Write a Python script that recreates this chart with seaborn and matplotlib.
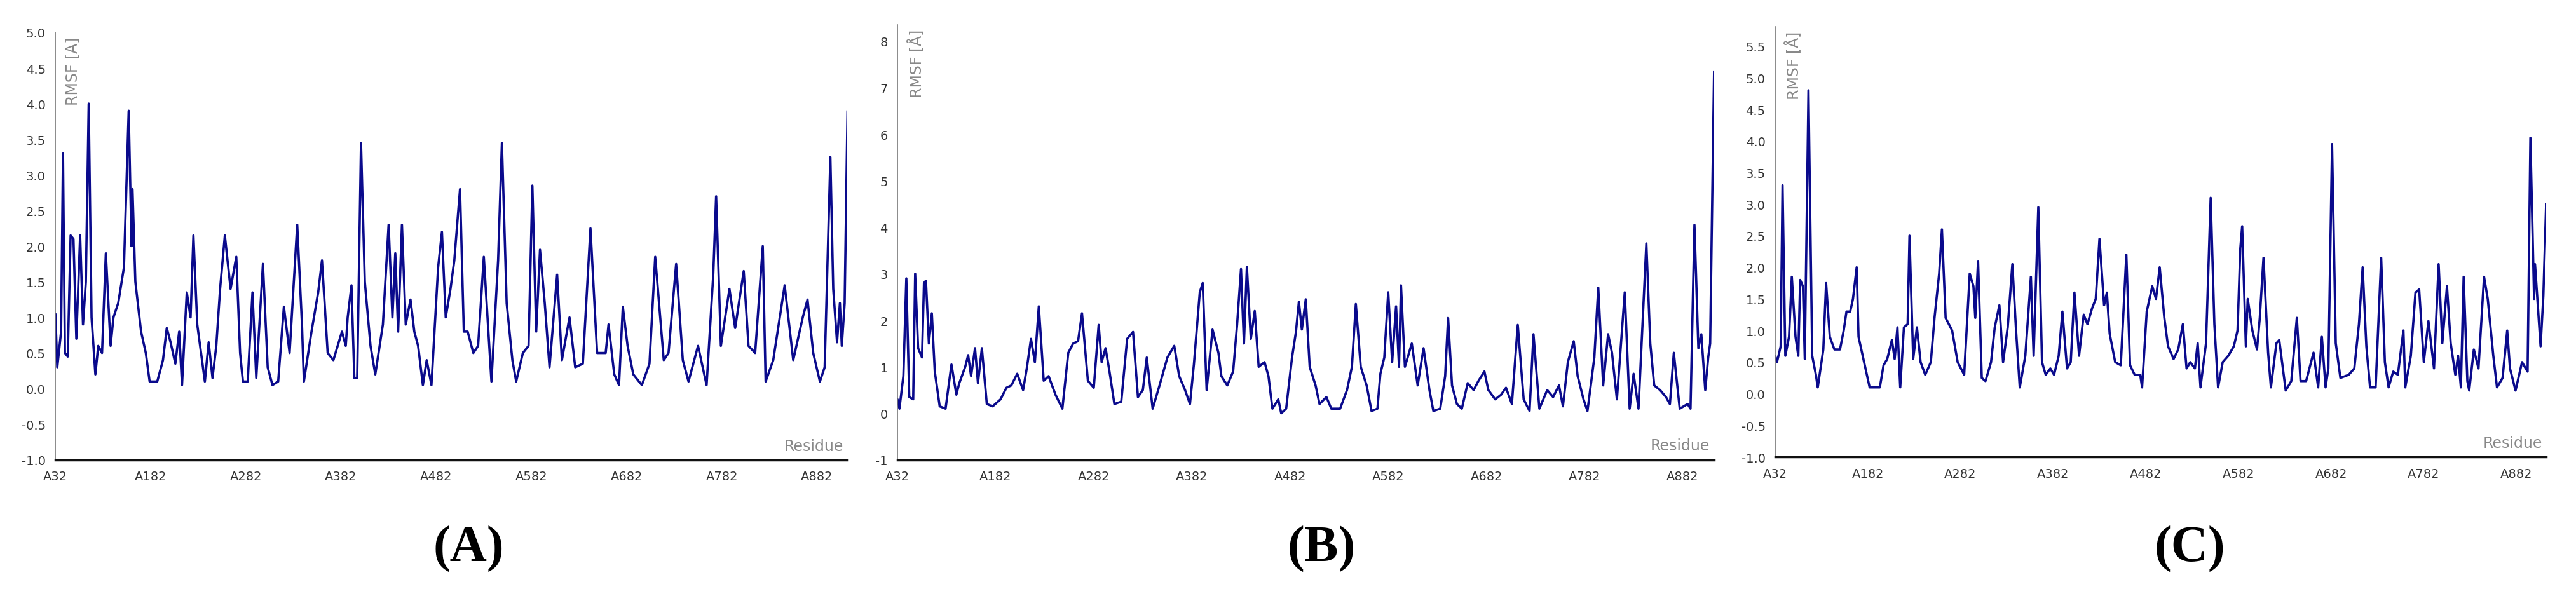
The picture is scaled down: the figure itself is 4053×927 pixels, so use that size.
import numpy as np
import pandas as pd
import matplotlib
matplotlib.use("Agg")
import matplotlib.pyplot as plt
import seaborn as sns

tick_labels = ["A32", "A182", "A282", "A382", "A482", "A582", "A682", "A782", "A882"]

a_idx = [0,2,6,8,10,13,16,19,22,26,29,32,35,38,42,45,49,53,58,61,66,72,77,80,81,84,90,95,99,107,113,117,121,126,130,133,138,142,145,149,153,157,161,165,169,173,178,184,190,194,197,202,207,211,218,223,228,234,240,246,254,259,261,269,276,280,286,292,301,305,307,311,314,317,321,325,331,336,344,350,354,357,360,364,368,373,377,381,386,390,395,402,406,410,415,419,425,429,433,439,444,450,458,465,469,474,480,484,491,497,501,505,509,514,519,527,532,540,546,554,562,569,578,581,587,592,596,601,607,616,624,630,639,644,652,659,665,675,684,691,694,699,708,714,723,728,735,743,746,754,766,775,785,790,796,803,808,814,817,821,824,826,829,832]
a_val = [1.05,0.3,0.8,3.3,0.5,0.45,2.15,2.1,0.7,2.15,0.9,1.5,4.0,1.0,0.2,0.6,0.5,1.9,0.6,1.0,1.2,1.7,3.9,2.0,2.8,1.5,0.8,0.5,0.1,0.1,0.4,0.85,0.65,0.35,0.8,0.05,1.35,1.0,2.15,0.9,0.5,0.1,0.65,0.15,0.6,1.4,2.15,1.4,1.85,0.5,0.1,0.1,1.35,0.15,1.75,0.3,0.05,0.1,1.15,0.5,2.3,0.9,0.1,0.8,1.35,1.8,0.5,0.4,0.8,0.6,1.0,1.45,0.15,0.15,3.45,1.5,0.6,0.2,0.9,2.3,1.0,1.9,0.8,2.3,0.9,1.25,0.8,0.6,0.05,0.4,0.05,1.7,2.2,1.0,1.4,1.8,2.8,0.8,0.8,0.5,0.6,1.85,0.1,1.8,3.45,1.2,0.4,0.1,0.5,0.6,2.85,0.8,1.95,1.2,0.3,1.6,0.4,1.0,0.3,0.35,2.25,0.5,0.5,0.9,0.2,0.05,1.15,0.6,0.2,0.05,0.35,1.85,0.4,0.5,1.75,0.4,0.1,0.6,0.05,1.6,2.7,0.6,1.4,0.85,1.65,0.6,0.5,2.0,0.1,0.4,1.45,0.4,1.0,1.25,0.5,0.1,0.3,3.25,1.4,0.65,1.2,0.6,1.2,3.9]

b_idx = [0,2,6,9,12,16,18,21,25,27,29,32,35,38,43,49,55,60,63,69,72,75,79,82,86,91,97,105,111,116,122,128,132,136,140,144,149,154,161,168,174,179,184,188,194,200,205,208,212,216,221,228,234,240,245,250,254,260,267,275,282,287,293,298,302,308,311,315,321,327,330,336,342,346,350,353,356,360,364,368,374,378,382,388,391,396,402,406,409,412,416,420,426,430,437,442,451,458,463,467,472,478,483,489,492,496,500,504,508,511,513,517,524,530,536,542,546,553,558,561,565,570,575,581,587,592,598,602,609,615,620,626,632,638,644,648,654,662,668,674,678,683,689,693,699,703,710,714,719,724,728,733,741,746,750,755,763,767,771,777,783,787,791,797,805,808,812,816,819,823,826,828,832]
b_val = [0.3,0.1,0.8,2.9,0.35,0.3,3.0,1.4,1.2,2.8,2.85,1.5,2.15,0.9,0.15,0.1,1.05,0.4,0.65,1.0,1.25,0.8,1.4,0.65,1.4,0.2,0.15,0.3,0.55,0.6,0.85,0.5,1.0,1.6,1.1,2.3,0.7,0.8,0.4,0.1,1.3,1.5,1.55,2.15,0.7,0.55,1.9,1.1,1.4,0.9,0.2,0.25,1.6,1.75,0.35,0.5,1.2,0.1,0.6,1.2,1.45,0.8,0.5,0.2,1.05,2.6,2.8,0.5,1.8,1.3,0.8,0.6,0.9,1.9,3.1,1.5,3.15,1.6,2.2,1.0,1.1,0.8,0.1,0.3,0.0,0.1,1.2,1.75,2.4,1.8,2.45,1.0,0.6,0.2,0.35,0.1,0.1,0.5,1.0,2.35,1.0,0.6,0.05,0.1,0.85,1.2,2.6,1.1,2.3,1.0,2.75,1.0,1.5,0.6,1.4,0.5,0.05,0.1,0.8,2.05,0.6,0.2,0.1,0.65,0.5,0.7,0.9,0.5,0.3,0.4,0.55,0.2,1.9,0.3,0.05,1.7,0.1,0.5,0.35,0.6,0.15,1.1,1.55,0.8,0.3,0.05,1.2,2.7,0.6,1.7,1.3,0.3,2.6,0.1,0.85,0.1,3.65,1.5,0.6,0.5,0.35,0.2,1.3,0.1,0.2,0.1,4.05,1.4,1.7,0.5,1.2,1.5,7.35]

c_idx = [0,2,6,8,11,15,18,22,25,27,30,32,36,40,44,46,52,55,59,64,70,74,77,81,84,88,90,96,102,113,117,121,126,129,132,135,139,143,145,149,153,157,162,168,172,177,180,184,191,197,204,210,214,216,219,223,227,233,237,242,246,251,256,260,264,270,276,279,284,288,292,297,301,306,310,315,319,323,328,333,337,342,346,350,355,358,361,367,373,379,383,388,394,396,401,407,411,415,420,424,430,435,440,444,448,453,456,459,465,470,474,478,483,489,495,499,502,504,508,510,515,520,523,527,532,535,541,544,551,557,563,567,573,581,586,590,594,597,601,605,610,619,625,630,634,638,642,648,654,658,662,667,672,678,680,686,691,695,700,705,711,716,720,725,729,734,737,740,743,747,749,754,759,765,769,775,779,785,790,793,799,806,812,815,819,820,826,829,832]
c_val = [0.6,0.5,0.75,3.3,0.6,0.9,1.85,0.9,0.6,1.8,1.7,0.55,4.8,0.6,0.3,0.1,0.7,1.75,0.9,0.7,0.7,1.0,1.3,1.3,1.5,2.0,0.9,0.5,0.1,0.1,0.45,0.55,0.85,0.55,1.05,0.1,1.05,1.1,2.5,0.55,1.05,0.5,0.3,0.5,1.2,1.9,2.6,1.2,1.0,0.5,0.3,1.9,1.7,1.2,2.1,0.25,0.2,0.5,1.05,1.4,0.5,1.05,2.05,1.0,0.1,0.6,1.85,0.6,2.95,0.5,0.3,0.4,0.3,0.6,1.3,0.4,0.5,1.6,0.6,1.25,1.1,1.35,1.5,2.45,1.4,1.6,0.95,0.5,0.45,2.2,0.45,0.3,0.3,0.1,1.3,1.7,1.5,2.0,1.2,0.75,0.55,0.7,1.1,0.4,0.5,0.4,0.8,0.1,0.8,3.1,1.1,0.1,0.5,0.6,0.75,1.0,2.3,2.65,0.75,1.5,1.0,0.7,1.2,2.15,0.65,0.1,0.8,0.85,0.05,0.2,1.2,0.2,0.2,0.65,0.1,0.9,0.1,0.4,3.95,0.8,0.25,0.3,0.4,1.1,2.0,0.75,0.1,0.1,2.15,0.5,0.1,0.35,0.3,1.0,0.1,0.6,1.6,1.65,0.5,1.15,0.4,2.05,0.8,1.7,0.8,0.3,0.6,0.1,1.85,0.2,0.05,0.7,0.4,1.85,1.5,0.6,0.1,0.25,1.0,0.4,0.05,0.5,0.35,4.05,1.5,2.05,0.75,1.55,3.0]

panels = [
    dict(idx=a_idx, val=a_val, label="(A)", ylim=(-1.0, 5.0), yt=np.arange(-1.0, 5.01, 0.5), fmt="{:.1f}",
         rect=[0.0215, 0.219, 0.3075, 0.725], ylab="RMSF [A]", lx=0.182),
    dict(idx=b_idx, val=b_val, label="(B)", ylim=(-1, 8.35), yt=np.arange(-1, 8.1, 1), fmt="{:.0f}",
         rect=[0.3484, 0.219, 0.317, 0.738], ylab="RMSF [Å]", lx=0.513),
    dict(idx=c_idx, val=c_val, label="(C)", ylim=(-1.0, 5.81), yt=np.arange(-1.0, 5.51, 0.5), fmt="{:.1f}",
         rect=[0.6891, 0.224, 0.2993, 0.730], ylab="RMSF [Å]", lx=0.850),
]

sns.set_theme(style="white")
plt.rcParams['font.family'] = ['DejaVu Sans']
fig = plt.figure(figsize=(40.53, 9.28), dpi=100)

for p in panels:
    ax = fig.add_axes(p["rect"])
    df = pd.DataFrame({"res": p["idx"], "rmsf": p["val"]})
    sns.lineplot(data=df, x="res", y="rmsf", ax=ax, color="#0a0a8c", linewidth=2.6)
    ax.set_xlim(0, 832)
    ax.set_ylim(*p["ylim"])
    ax.set_xticks(np.arange(0, 801, 100))
    ax.set_xticklabels(tick_labels, fontsize=14, color="#333333")
    ax.set_yticks(p["yt"])
    ax.set_yticklabels([p["fmt"].format(v) for v in p["yt"]], fontsize=14, color="#333333")
    ax.tick_params(axis="both", length=5, width=1, color="#555555", pad=6, direction="out")
    ax.tick_params(axis="x", length=0, pad=12)
    for s in ["top", "right"]:
        ax.spines[s].set_visible(False)
    ax.spines["left"].set_color("#777777")
    ax.spines["left"].set_linewidth(1.2)
    ax.spines["bottom"].set_color("#111111")
    ax.spines["bottom"].set_linewidth(2.5)
    ax.set_xlabel("")
    ax.set_ylabel("")
    ax.text(0.012, 0.99, p["ylab"], transform=ax.transAxes, rotation=90, ha="left", va="top",
            fontsize=17, color="#888888")
    ax.text(0.995, 0.015, "Residue", transform=ax.transAxes, ha="right", va="bottom",
            fontsize=17, color="#888888")
    fig.text(p["lx"], 0.069, p["label"], ha="center", va="center", fontsize=58, fontweight="bold",
             color="black", family=["Liberation Serif", "DejaVu Serif"])

fig.savefig("out.png", dpi=100)
